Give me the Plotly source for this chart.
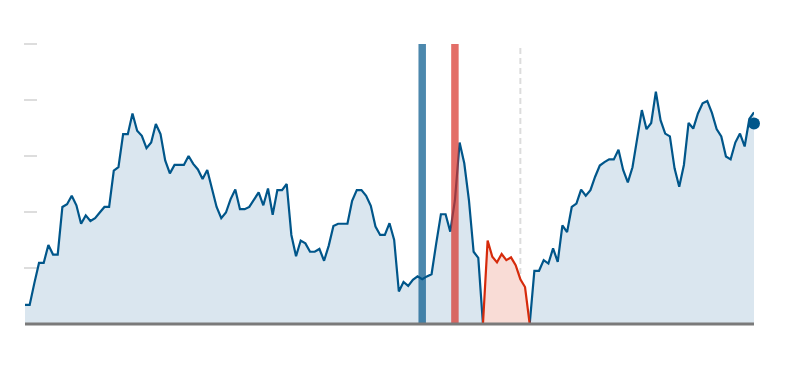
import plotly.graph_objects as go

# ---- data ----
main_values = [
    0.34, 0.34, 0.73, 1.09, 1.09, 1.41, 1.24, 1.24, 2.09, 2.14,
    2.29, 2.12, 1.79, 1.94, 1.84, 1.89, 1.99, 2.09, 2.09, 2.74,
    2.80, 3.39, 3.39, 3.76, 3.45, 3.36, 3.14, 3.24, 3.57, 3.39,
    2.92, 2.69, 2.84, 2.84, 2.84, 3.00, 2.86, 2.76, 2.59, 2.75,
    2.40, 2.09, 1.89, 1.99, 2.23, 2.40, 2.05, 2.05, 2.09, 2.23,
    2.35, 2.12, 2.42, 1.95, 2.39, 2.39, 2.50, 1.59, 1.21, 1.49,
    1.44, 1.29, 1.29, 1.34, 1.13, 1.40, 1.75, 1.79, 1.79, 1.79,
    2.20, 2.39, 2.39, 2.29, 2.11, 1.74, 1.59, 1.59, 1.80, 1.50,
    0.58, 0.75, 0.68, 0.79, 0.85, 0.80, 0.85, 0.89, 1.44, 1.96,
    1.96, 1.65, 2.21, 3.24, 2.87, 2.21, 1.29, 1.18, 0.00, None,
    None, None, None, None, None, None, None, None, 0.00, 0.95,
    0.95, 1.14, 1.08, 1.35, 1.11, 1.76, 1.64, 2.09, 2.15, 2.40,
    2.29, 2.39, 2.63, 2.83, 2.89, 2.94, 2.94, 3.11, 2.75, 2.53,
    2.80, 3.32, 3.82, 3.48, 3.59, 4.15, 3.64, 3.40, 3.35, 2.78,
    2.45, 2.84, 3.59, 3.49, 3.76, 3.94, 3.98, 3.77, 3.48, 3.35,
    2.99, 2.94, 3.24, 3.40, 3.17, 3.66, 3.78,
]
main_x = list(range(len(main_values)))

red_x = [98, 99, 100, 101, 102, 103, 104, 105, 106, 107, 108]
red_values = [0.00, 1.49, 1.20, 1.10, 1.25, 1.14, 1.19, 1.05, 0.80, 0.66, 0.00]

latest_x = [156]
latest_value = [3.58]

blue_event_x = 85
red_event_x = 92
dashed_event_x = 106

y_max = 5
y_tick_values = [1, 2, 3, 4, 5]

# ---- styles ----
BLUE = "#00568a"
BLUE_FILL = "#dae6ef"
RED = "#d62a0b"
RED_FILL = "#f9dcd6"
RED_BAR = "#d73027"

fig = go.Figure()

fig.add_trace(go.Scatter(
    x=main_x, y=main_values, mode="lines", fill="tozeroy",
    fillcolor=BLUE_FILL, line=dict(color=BLUE, width=2.2),
    connectgaps=False, hoverinfo="skip", showlegend=False,
))
fig.add_trace(go.Scatter(
    x=red_x, y=red_values, mode="lines", fill="tozeroy",
    fillcolor=RED_FILL, line=dict(color=RED, width=2.2),
    hoverinfo="skip", showlegend=False,
))
fig.add_trace(go.Scatter(
    x=latest_x, y=latest_value, mode="markers",
    marker=dict(color=BLUE, size=12), hoverinfo="skip",
    showlegend=False, cliponaxis=False,
))

plot_w = 800 - 25 - 46
for tv in y_tick_values:
    fig.add_shape(type="line", xref="paper", yref="paper",
                  x0=-1 / plot_w, x1=12 / plot_w,
                  y0=tv / y_max, y1=tv / y_max, layer="below",
                  line=dict(color="#dddddd", width=2))

half = 0.8
fig.add_shape(type="line", x0=dashed_event_x, x1=dashed_event_x, y0=0, y1=y_max,
              xref="x", yref="y", layer="below",
              line=dict(color="#dcdcdc", width=2, dash="6px,4px"))
fig.add_shape(type="rect", x0=blue_event_x - half, x1=blue_event_x + half,
              y0=0, y1=y_max, xref="x", yref="y", layer="above",
              fillcolor=BLUE, opacity=0.7, line=dict(width=0))
fig.add_shape(type="rect", x0=red_event_x - half, x1=red_event_x + half,
              y0=0, y1=y_max, xref="x", yref="y", layer="above",
              fillcolor=RED_BAR, opacity=0.7, line=dict(width=0))
fig.add_shape(type="line", x0=0, x1=len(main_values) - 1, y0=0, y1=0,
              xref="x", yref="paper", layer="above",
              line=dict(color="#7a7a7a", width=3))

fig.update_layout(
    width=800, height=384,
    margin=dict(l=25, r=46, t=44, b=60, pad=0),
    paper_bgcolor="white", plot_bgcolor="white",
    showlegend=False,
    xaxis=dict(range=[0, len(main_values) - 1], showgrid=False, zeroline=False,
               showline=False, showticklabels=False, ticks=""),
    yaxis=dict(range=[0, y_max], showgrid=False, zeroline=False, showline=False,
               showticklabels=False, ticks=""),
)

fig.write_html("out.html", config={"displayModeBar": False})
